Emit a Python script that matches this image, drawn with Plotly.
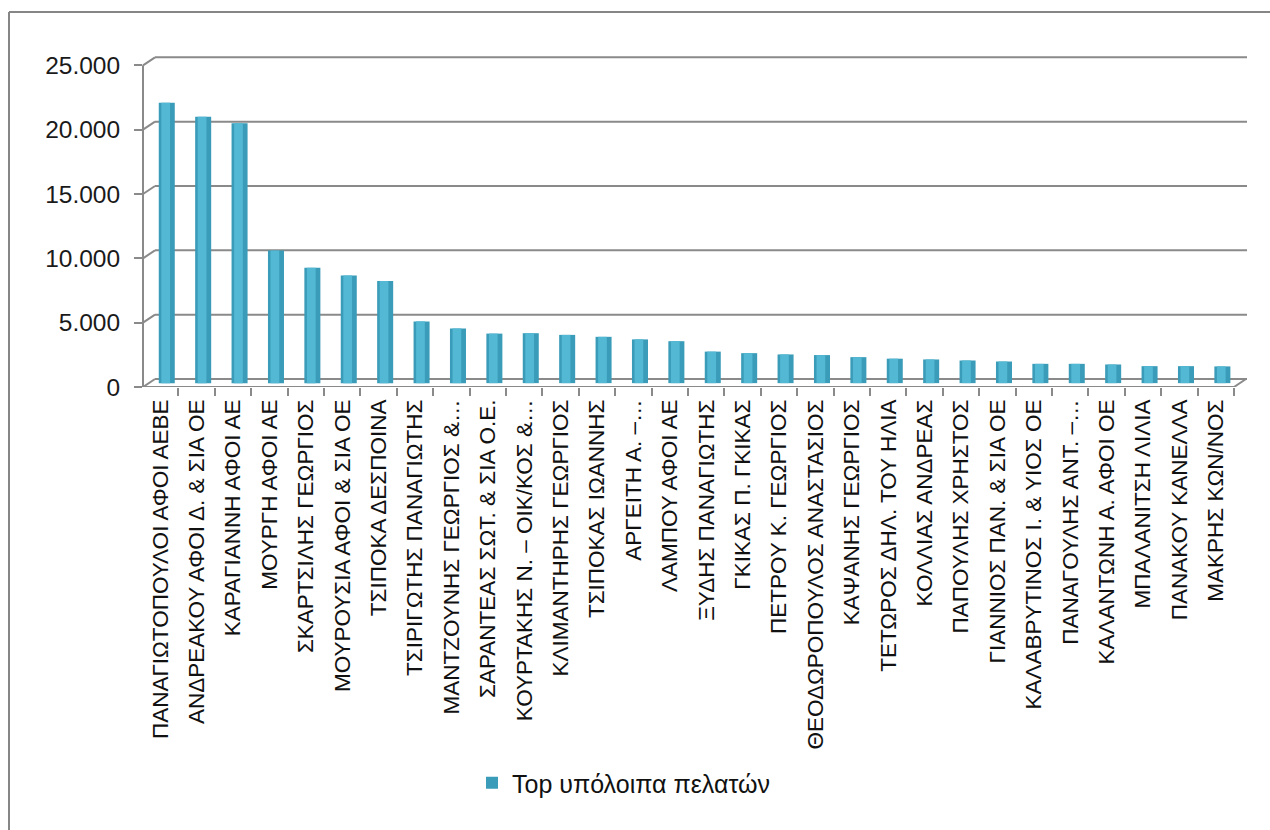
import plotly.graph_objects as go

# ---------------- data ----------------
categories = [
    "ΠΑΝΑΓΙΩΤΟΠΟΥΛΟΙ ΑΦΟΙ ΑΕΒΕ",
    "ΑΝΔΡΕΑΚΟΥ ΑΦΟΙ Δ. & ΣΙΑ ΟΕ",
    "ΚΑΡΑΓΙΑΝΝΗ ΑΦΟΙ ΑΕ",
    "ΜΟΥΡΓΗ ΑΦΟΙ ΑΕ",
    "ΣΚΑΡΤΣΙΛΗΣ ΓΕΩΡΓΙΟΣ",
    "ΜΟΥΡΟΥΣΙΑ ΑΦΟΙ & ΣΙΑ ΟΕ",
    "ΤΣΙΠΟΚΑ ΔΕΣΠΟΙΝΑ",
    "ΤΣΙΡΙΓΩΤΗΣ ΠΑΝΑΓΙΩΤΗΣ",
    "ΜΑΝΤΖΟΥΝΗΣ ΓΕΩΡΓΙΟΣ &…",
    "ΣΑΡΑΝΤΕΑΣ ΣΩΤ. & ΣΙΑ Ο.Ε.",
    "ΚΟΥΡΤΑΚΗΣ Ν. – ΟΙΚ/ΚΟΣ &…",
    "ΚΛΙΜΑΝΤΗΡΗΣ ΓΕΩΡΓΙΟΣ",
    "ΤΣΙΠΟΚΑΣ ΙΩΑΝΝΗΣ",
    "ΑΡΓΕΙΤΗ Α. –…",
    "ΛΑΜΠΟΥ ΑΦΟΙ ΑΕ",
    "ΞΥΔΗΣ ΠΑΝΑΓΙΩΤΗΣ",
    "ΓΚΙΚΑΣ Π. ΓΚΙΚΑΣ",
    "ΠΕΤΡΟΥ Κ. ΓΕΩΡΓΙΟΣ",
    "ΘΕΟΔΩΡΟΠΟΥΛΟΣ ΑΝΑΣΤΑΣΙΟΣ",
    "ΚΑΨΑΝΗΣ ΓΕΩΡΓΙΟΣ",
    "ΤΕΤΩΡΟΣ ΔΗΛ. ΤΟΥ ΗΛΙΑ",
    "ΚΟΛΛΙΑΣ ΑΝΔΡΕΑΣ",
    "ΠΑΠΟΥΛΗΣ ΧΡΗΣΤΟΣ",
    "ΓΙΑΝΝΙΟΣ ΠΑΝ. & ΣΙΑ ΟΕ",
    "ΚΑΛΑΒΡΥΤΙΝΟΣ Ι. & ΥΙΟΣ ΟΕ",
    "ΠΑΝΑΓΟΥΛΗΣ ΑΝΤ. –…",
    "ΚΑΛΑΝΤΩΝΗ Α. ΑΦΟΙ ΟΕ",
    "ΜΠΑΛΑΝΙΤΣΗ ΛΙΛΙΑ",
    "ΠΑΝΑΚΟΥ ΚΑΝΕΛΛΑ",
    "ΜΑΚΡΗΣ ΚΩΝ/ΝΟΣ",
]
values = [21800, 20700, 20200, 10300, 8960, 8370, 7930, 4800, 4250, 3850,
          3880, 3750, 3600, 3400, 3260, 2450, 2330, 2230, 2180, 2020,
          1900, 1840, 1760, 1680, 1500, 1500, 1450, 1320, 1320, 1300]
series_name = "Top υπόλοιπα πελατών"
y_ticks = [0, 5000, 10000, 15000, 20000, 25000]
y_tick_text = ["0", "5.000", "10.000", "15.000", "20.000", "25.000"]

# ---------------- geometry / style ----------------
W, H = 1270, 830
ML, MR, MT, MB = 143, 23, 50, 443
plot_w = W - ML - MR
plot_h = H - MT - MB
y_max = 26190                     # front axis range top
px_per_unit = plot_h / y_max
depth_dy = 8 / px_per_unit        # 3D wall offset in value units
depth_dx_paper = 12 / plot_w
bar_lift = 300                    # bars stand slightly behind the front edge
cat_px = 36.4
x_range = [-0.473, -0.473 + plot_w / cat_px]
grey = "#8a8a8a"
font_family = "Liberation Sans, Arial, sans-serif"

fig = go.Figure()
fig.add_trace(go.Bar(
    x=categories, y=values, name=series_name, yaxis="y2",
    width=0.44, offset=-0.04,
    marker=dict(color="#3A9CB8", line=dict(width=0)),
))
fig.add_trace(go.Bar(
    x=categories, y=values, yaxis="y2", showlegend=False, hoverinfo="skip",
    width=0.24, offset=0.03,
    marker=dict(color="#52B8D3", line=dict(width=0)),
))

shapes = []
# front vertical axis line
shapes.append(dict(type="line", xref="paper", yref="y", x0=0, x1=0,
                   y0=y_ticks[0], y1=y_ticks[-1],
                   line=dict(color=grey, width=2), layer="below"))
for v in y_ticks:
    shapes.append(dict(type="line", xref="paper", yref="y", x0=0, x1=depth_dx_paper,
                       y0=v, y1=v + depth_dy, line=dict(color=grey, width=2), layer="below"))
    shapes.append(dict(type="line", xref="paper", yref="y", x0=depth_dx_paper, x1=1,
                       y0=v + depth_dy, y1=v + depth_dy,
                       line=dict(color=grey, width=2), layer="below"))
last = len(categories) - 0.5
shapes.append(dict(type="line", xref="x", yref="y", x0=-0.5, x1=last, y0=0, y1=0,
                   line=dict(color=grey, width=2), layer="below"))
shapes.append(dict(type="line", xref="x", yref="y", x0=last, x1=last + 12 / cat_px,
                   y0=0, y1=depth_dy, line=dict(color=grey, width=2), layer="below"))
# outer chart border (left and top visible)
bx0 = (9 - ML) / plot_w
by1 = (H - MB - 12) / plot_h
shapes.append(dict(type="line", xref="paper", yref="paper", x0=bx0, x1=1.2,
                   y0=by1, y1=by1, line=dict(color="#868686", width=2)))
shapes.append(dict(type="line", xref="paper", yref="paper", x0=bx0, x1=bx0,
                   y0=by1, y1=-1.5, line=dict(color="#868686", width=2)))

fig.update_layout(
    width=W, height=H,
    margin=dict(l=ML, r=MR, t=MT, b=MB, autoexpand=False),
    paper_bgcolor="white", plot_bgcolor="rgba(0,0,0,0)",
    barmode="overlay",
    font=dict(family=font_family, color="#1a1a1a"),
    shapes=shapes,
    xaxis=dict(
        type="category", categoryorder="array", categoryarray=categories,
        range=x_range, showgrid=False, showline=False, zeroline=False,
        ticks="outside", tickson="boundaries", ticklen=8, tickwidth=2, tickcolor=grey,
        tickangle=-90, tickfont=dict(size=22.5, color="#111111"),
        ticklabelstandoff=7, automargin=False, fixedrange=True,
    ),
    yaxis=dict(
        range=[0, y_max], tickvals=y_ticks, ticktext=y_tick_text,
        showgrid=False, showline=False, zeroline=False,
        ticks="outside", ticklen=8, tickwidth=2, tickcolor=grey,
        tickfont=dict(size=24.5, color="#1a1a1a"), ticklabelstandoff=9,
        automargin=False, fixedrange=True,
    ),
    yaxis2=dict(
        range=[-bar_lift, y_max - bar_lift], overlaying="y", visible=False,
        fixedrange=True,
    ),
    legend=dict(
        orientation="h", x=(472 - ML) / plot_w, xanchor="left",
        y=(H - MB - 783) / plot_h, yanchor="middle",
        font=dict(size=25, color="#111111"), bgcolor="rgba(0,0,0,0)",
    ),
    showlegend=True,
)

fig.write_html("out.html")
